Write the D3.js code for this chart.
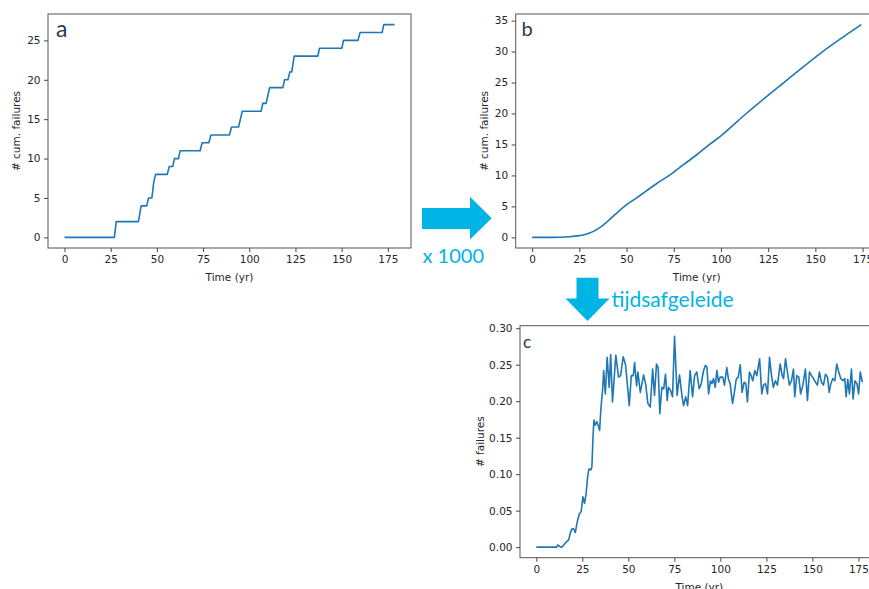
<!DOCTYPE html>
<html>
<head>
<meta charset="utf-8">
<script src="https://cdn.jsdelivr.net/npm/d3@7"></script>
<style>
  html, body { margin: 0; padding: 0; background: #fff; }
  svg { display: block; overflow: hidden; }
  .tick text { font-family: "DejaVu Sans", sans-serif; font-size: 10.5px; fill: #262626; }
  .tick line { stroke: #444; }
</style>
</head>
<body>
<div id="chart"></div>
<script>
// panel a: cumulative failures (corners of the step line)
const aYears = [0, 27, 28, 40, 41.5, 44.5, 45.5, 47.3, 48.3, 49.3, 55.6, 56.7, 58.6, 59.5, 61.7, 62.6,
  73.4, 74.5, 78.1, 79.3, 89.3, 90.4, 94.2, 96.2, 106.4, 107.3, 109.1, 111, 118.2, 119.1, 120.9, 122,
  123, 124.3, 137.1, 138, 150.1, 151, 158.8, 160, 171.9, 172.8, 178.6];
const aCum = [0, 0, 2, 2, 4, 4, 5, 5, 7, 8, 8, 9, 9, 10, 10, 11,
  11, 12, 12, 13, 13, 14, 14, 16, 16, 17, 17, 19, 19, 20, 20, 21,
  21, 23, 23, 24, 24, 25, 25, 26, 26, 27, 27];

// panel b: cumulative failures x 1000 runs (averaged)
const bYears = [0, 10, 15, 20, 25, 28, 30, 33, 36, 40, 44, 48.4, 55, 60, 66, 74, 80, 87, 94, 100,
  113.4, 133.3, 153.9, 174.3];
const bCum = [0, 0, 0.02, 0.1, 0.28, 0.45, 0.65, 1.05, 1.6, 2.6, 3.7, 4.9, 6.3, 7.4, 8.7, 10.3, 11.7, 13.3,
  15, 16.4, 20, 25, 30, 34.35];

// panel c: failures per year (time derivative)
const cYears = [0, 11, 11.6, 12.7, 13.9, 15.2, 16.6, 17.6, 18.5, 19.4, 20.3, 21.2, 22.1, 23.3, 24.4,
  25.3, 26.2, 27.1, 27.9, 28.6, 29.7, 30.2, 30.8, 31.3, 32, 32.9, 33.8, 34.4, 35.1, 36, 36.6, 37.5,
  38.5, 39.6, 40.4, 41.4, 43.2, 44.7, 45.8, 47.2, 48.5, 50.5, 51.6, 52.7, 53.4, 54.5, 55.2, 56.5,
  58.3, 59.5, 60.6, 61.9, 63.2, 64.2, 65.3, 66.2, 67.1, 68.2, 69.2, 70.2, 71.1, 71.8, 72.9, 74,
  75.1, 76.5, 77.8, 79.1, 80, 81.2, 82.2, 83.6, 84.9, 86, 87.2, 88.5, 89.6, 90.7, 91.8, 92.7, 93.6,
  94.6, 95.4, 96.3, 97.2, 98.1, 99, 99.9, 101.3, 102.2, 103.5, 104.4, 105.3, 106.6, 107.5, 108.6,
  109.7, 110.8, 111.8, 112.9, 113.8, 114.7, 115.8, 116.7, 117.6, 118.7, 119.8, 121.3, 122.5, 123.4,
  124.5, 125.6, 126.7, 127.8, 128.8, 129.9, 131, 132.5, 133.6, 134.3, 135.4, 136.4, 137.5, 138.6,
  139.7, 140.4, 141.5, 142.6, 143.6, 144.8, 146.2, 147.3, 148.4, 149.5, 150.6, 151.7, 152.7, 153.8,
  154.9, 156, 157.1, 158.2, 159.1, 160, 161.1, 162.2, 163.2, 164.3, 165.4, 166.5, 167.6, 168.3,
  169.2, 170.1, 171.2, 172.1, 173.1, 174.2, 175.1, 176, 177.1];
const cRate = [0, 0, 0.003, 0.001, 0, 0.004, 0.008, 0.01, 0.02, 0.025, 0.025, 0.02, 0.033, 0.045, 0.049,
  0.069, 0.06, 0.074, 0.097, 0.107, 0.106, 0.11, 0.151, 0.174, 0.167, 0.172, 0.165, 0.16, 0.19, 0.215, 0.242, 0.21,
  0.26, 0.219, 0.264, 0.199, 0.263, 0.233, 0.235, 0.261, 0.25, 0.194, 0.235, 0.235, 0.253, 0.221, 0.24, 0.212,
  0.236, 0.222, 0.197, 0.192, 0.244, 0.208, 0.251, 0.246, 0.183, 0.219, 0.217, 0.237, 0.201, 0.219, 0.215, 0.206,
  0.289, 0.208, 0.236, 0.208, 0.194, 0.206, 0.194, 0.242, 0.206, 0.235, 0.24, 0.217, 0.224, 0.24, 0.249, 0.247, 0.21,
  0.228, 0.224, 0.231, 0.219, 0.242, 0.226, 0.233, 0.233, 0.222, 0.246, 0.23, 0.224, 0.197, 0.21, 0.23,
  0.233, 0.25, 0.212, 0.226, 0.224, 0.199, 0.24, 0.235, 0.228, 0.242, 0.235, 0.258, 0.21, 0.222,
  0.224, 0.21, 0.26, 0.235, 0.219, 0.228, 0.222, 0.251, 0.235, 0.231, 0.258, 0.24, 0.222, 0.228,
  0.244, 0.206, 0.235, 0.233, 0.21, 0.222, 0.244, 0.201, 0.24, 0.235, 0.231, 0.226, 0.222, 0.24,
  0.226, 0.222, 0.237, 0.233, 0.212, 0.224, 0.231, 0.228, 0.251, 0.24, 0.231, 0.228, 0.231, 0.206,
  0.23, 0.21, 0.244, 0.203, 0.228, 0.224, 0.21, 0.24, 0.226];

const xTicks = [0, 25, 50, 75, 100, 125, 150, 175];
const aYTicks = [0, 5, 10, 15, 20, 25];
const bYTicks = [0, 5, 10, 15, 20, 25, 30, 35];
const cYTicks = [0, 0.05, 0.10, 0.15, 0.20, 0.25, 0.30];

const W = 869, H = 589;
const lineColor = '#1f77b4';
const cyan = '#00b4e6';

const svg = d3.select('#chart').append('svg')
  .attr('width', W)
  .attr('height', H);

// matplotlib style 5% margins around the data
function padded(ext) {
  const r = ext[1] - ext[0];
  return [ext[0] - 0.05 * r, ext[1] + 0.05 * r];
}

function panel(opt) {
  const x = d3.scaleLinear().domain(padded(d3.extent(opt.xs))).range([opt.left, opt.right]);
  const y = d3.scaleLinear().domain(padded(d3.extent(opt.ys))).range([opt.bottom, opt.top]);
  const g = svg.append('g');

  g.append('g')
    .attr('transform', `translate(0,${opt.bottom})`)
    .call(d3.axisBottom(x).tickValues(xTicks).tickSize(4).tickPadding(3.5).tickFormat(d3.format('d')))
    .call(s => s.select('.domain').remove());

  g.append('g')
    .attr('transform', `translate(${opt.left},0)`)
    .call(d3.axisLeft(y).tickValues(opt.yTicks).tickSize(4).tickPadding(3.5).tickFormat(d3.format(opt.fmt)))
    .call(s => s.select('.domain').remove());

  const pts = opt.xs.map((t, i) => [t, opt.ys[i]]);
  g.append('path')
    .datum(pts)
    .attr('fill', 'none')
    .attr('stroke', lineColor)
    .attr('stroke-width', 1.6)
    .attr('stroke-linejoin', 'round')
    .attr('d', d3.line().curve(opt.curve || d3.curveLinear).x(d => x(d[0])).y(d => y(d[1])));

  g.append('rect')
    .attr('x', opt.left).attr('y', opt.top)
    .attr('width', opt.right - opt.left).attr('height', opt.bottom - opt.top)
    .attr('fill', 'none').attr('stroke', '#555').attr('stroke-width', 1);

  g.append('text')
    .attr('x', (opt.left + opt.right) / 2)
    .attr('y', opt.bottom + 33)
    .attr('text-anchor', 'middle')
    .attr('font-family', 'DejaVu Sans, sans-serif')
    .attr('font-size', 10.5)
    .attr('fill', '#262626')
    .text('Time (yr)');

  g.append('text')
    .attr('transform', `translate(${opt.ylabelX},${(opt.top + opt.bottom) / 2}) rotate(-90)`)
    .attr('text-anchor', 'middle')
    .attr('dy', '0.35em')
    .attr('font-family', 'DejaVu Sans, sans-serif')
    .attr('font-size', 10.5)
    .attr('fill', '#262626')
    .text(opt.ylabel);

  g.append('text')
    .attr('x', opt.letterX).attr('y', opt.letterY)
    .attr('font-family', 'Lato, "Open Sans", sans-serif')
    .attr('font-size', opt.letterSize)
    .attr('fill', '#22404f')
    .text(opt.letter);
}

panel({ xs: aYears, ys: aCum, left: 48, right: 411, top: 14, bottom: 248,
  yTicks: aYTicks, fmt: 'd', ylabel: '# cum. failures', ylabelX: 16,
  letter: 'a', letterX: 56, letterY: 37, letterSize: 23 });

panel({ xs: bYears, ys: bCum, left: 515.7, right: 877.7, top: 14, bottom: 248,
  yTicks: bYTicks, fmt: 'd', ylabel: '# cum. failures', ylabelX: 484,
  letter: 'b', letterX: 521.5, letterY: 36, letterSize: 20, curve: d3.curveMonotoneX });

panel({ xs: cYears, ys: cRate, left: 520, right: 878.6, top: 325.7, bottom: 557.7,
  yTicks: cYTicks, fmt: '.2f', ylabel: '# failures', ylabelX: 480,
  letter: 'c', letterX: 523, letterY: 347.7, letterSize: 17 });

// block arrows
svg.append('path')
  .attr('fill', cyan)
  .attr('d', 'M422,208 L470,208 L470,196.7 L491.7,218.3 L470,239.5 L470,229 L422,229 Z');

svg.append('path')
  .attr('fill', cyan)
  .attr('d', 'M576.5,277.7 L598.5,277.7 L598.5,298.5 L609.5,298.5 L587.5,321 L565.5,298.5 L576.5,298.5 Z');

svg.append('text')
  .attr('x', 422.5).attr('y', 263.3)
  .attr('font-family', 'Lato, "Open Sans", sans-serif')
  .attr('font-size', 20)
  .attr('fill', cyan)
  .text('x 1000');

svg.append('text')
  .attr('x', 611.5).attr('y', 306.7)
  .attr('font-family', 'Lato, "Open Sans", sans-serif')
  .attr('font-size', 21)
  .attr('fill', cyan)
  .text('tijdsafgeleide');
</script>
</body>
</html>
